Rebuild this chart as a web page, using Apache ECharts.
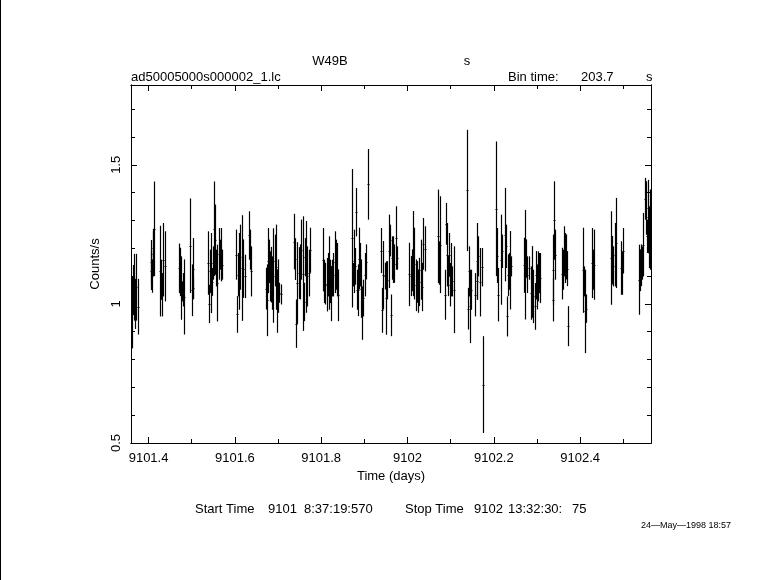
<!DOCTYPE html>
<html><head><meta charset="utf-8">
<script src="https://cdn.jsdelivr.net/npm/echarts@6/dist/echarts.min.js"></script>
<style>html,body{margin:0;padding:0;background:#fff}#c{width:781px;height:580px}</style>
</head><body><div id="c"></div>
<script>
// ---- data (Time in days, Counts/s, 1-sigma error) ----
const time = [
9101.3605, 9101.3628, 9101.3651, 9101.3674, 9101.3697, 9101.3720, 9101.3744,
9101.4049, 9101.4063, 9101.4080, 9101.4096, 9101.4110, 9101.4126,
9101.4265, 9101.4288, 9101.4311, 9101.4341, 9101.4388,
9101.4712, 9101.4735, 9101.4752, 9101.4775, 9101.4791, 9101.4821, 9101.4960, 9101.5006, 9101.5023, 9101.5037,
9101.5384, 9101.5400, 9101.5423, 9101.5447, 9101.5470, 9101.5493, 9101.5516, 9101.5539, 9101.5563, 9101.5593, 9101.5625, 9101.5655, 9101.5678, 9101.5702,
9101.6026, 9101.6042, 9101.6072, 9101.6095, 9101.6126, 9101.6158, 9101.6195, 9101.6227, 9101.6320, 9101.6350, 9101.6380,
9101.6714, 9101.6737, 9101.6774, 9101.6797, 9101.6821, 9101.6844, 9101.6867, 9101.6890, 9101.6923, 9101.6946, 9101.6969, 9101.6992, 9101.7022, 9101.7062,
9101.7370, 9101.7400, 9101.7423, 9101.7446, 9101.7479, 9101.7502, 9101.7532, 9101.7571, 9101.7601, 9101.7632, 9101.7655, 9101.7678, 9101.7710, 9101.7747,
9101.8049, 9101.8072, 9101.8095, 9101.8127, 9101.8158, 9101.8181, 9101.8204, 9101.8234, 9101.8257, 9101.8280, 9101.8313, 9101.8336, 9101.8359, 9101.8389,
9101.8707, 9101.8730, 9101.8753, 9101.8783, 9101.8813, 9101.8836, 9101.8860, 9101.8883, 9101.8906, 9101.8929, 9101.8952, 9101.8975, 9101.9008, 9101.9031, 9101.9091,
9101.9386, 9101.9409, 9101.9439, 9101.9471, 9101.9501, 9101.9532, 9101.9564, 9101.9587, 9101.9617, 9101.9640, 9101.9671, 9101.9694, 9101.9726, 9101.9749,
9102.0041, 9102.0074, 9102.0104, 9102.0127, 9102.0157, 9102.0190, 9102.0213, 9102.0243, 9102.0273, 9102.0305, 9102.0336, 9102.0366, 9102.0398,
9102.0706, 9102.0736, 9102.0760, 9102.0875, 9102.0899, 9102.0915, 9102.0938, 9102.0968, 9102.0991, 9102.1014, 9102.1038, 9102.1070,
9102.1371, 9102.1394, 9102.1425, 9102.1448, 9102.1471, 9102.1571, 9102.1603, 9102.1617, 9102.1640, 9102.1679, 9102.1719, 9102.1742,
9102.2050, 9102.2066, 9102.2096, 9102.2172, 9102.2196, 9102.2252, 9102.2282, 9102.2305, 9102.2335, 9102.2358, 9102.2381, 9102.2405,
9102.2706, 9102.2729, 9102.2752, 9102.2775, 9102.2808, 9102.2868, 9102.2891, 9102.2914, 9102.2947, 9102.2970, 9102.2993, 9102.3023, 9102.3053, 9102.3077,
9102.3364, 9102.3378, 9102.3401, 9102.3424, 9102.3586, 9102.3609, 9102.3633, 9102.3656, 9102.3679, 9102.3702, 9102.3725,
9102.4059, 9102.4082, 9102.4105, 9102.4128, 9102.4274, 9102.4298, 9102.4321,
9102.4722, 9102.4745, 9102.4768, 9102.4800, 9102.4824, 9102.4953, 9102.4976, 9102.5000,
9102.5370, 9102.5394, 9102.5417, 9102.5440, 9102.5463, 9102.5509, 9102.5526, 9102.5549, 9102.5572, 9102.5595, 9102.5618
];
const rate = [
0.97, 1.05, 1.02, 1.08, 1.00, 1.06, 0.99,
1.12, 1.15, 1.10, 1.18, 1.20, 1.27,
1.118, 1.087, 1.033, 1.159, 1.135,
1.128, 1.115, 1.057, 1.045, 1.051, 1.025, 1.209, 1.049, 1.127, 1.057,
1.147, 1.000, 1.117, 1.111, 1.079, 1.147, 1.270, 1.231, 1.129, 1.075, 1.180, 1.177, 1.177, 1.141,
1.177, 0.962, 1.105, 1.117, 1.168, 1.129, 1.127, 1.099, 1.246, 1.195, 1.117,
1.055, 1.013, 1.156, 1.153, 1.099, 1.105, 1.075, 1.102, 1.156, 1.132, 1.010, 1.064, 1.040, 1.034,
1.224, 1.161, 0.929, 1.075, 1.111, 1.115, 1.195, 1.109, 1.007, 1.168, 1.133, 1.099, 1.111, 1.193,
1.159, 1.081, 1.073, 1.069, 1.105, 1.111, 1.081, 1.037, 1.093, 1.105, 1.150, 1.141, 1.123, 1.031,
1.236, 1.105, 1.153, 1.135, 1.330, 1.051, 1.049, 1.163, 1.141, 1.055, 0.967, 1.021, 1.105, 1.151, 1.430,
1.192, 0.977, 1.103, 1.100, 1.021, 1.085, 1.189, 1.228, 0.959, 1.165, 1.159, 1.145, 1.237, 1.165,
1.106, 1.100, 1.121, 1.181, 1.145, 1.067, 1.079, 1.046, 1.079, 1.123, 1.061, 1.216, 1.198,
1.243, 1.147, 1.213, 1.033, 1.288, 1.177, 1.100, 1.177, 1.069, 1.123, 1.081, 1.051,
1.408, 0.983, 1.117, 0.991, 1.051, 1.033, 1.081, 1.153, 1.171, 1.078, 1.132, 0.710,
1.342, 1.174, 1.033, 1.159, 1.189, 1.249, 1.207, 0.955, 1.103, 1.117, 1.121, 1.135,
1.139, 1.141, 1.163, 1.105, 1.129, 1.039, 1.079, 1.027, 0.991, 1.103, 1.061, 1.099, 1.111, 1.093,
1.015, 1.123, 1.300, 1.177, 1.109, 1.123, 1.189, 1.165, 1.169, 1.127, 0.920,
1.121, 1.081, 0.973, 0.983, 1.147, 1.123, 1.141,
1.165, 1.157, 1.135, 1.177, 1.219, 1.129, 1.111, 1.192,
1.087, 1.121, 1.139, 1.147, 1.213, 1.378, 1.345, 1.243, 1.314, 1.240, 1.267
];
const rateErr = [
0.13, 0.09, 0.08, 0.10, 0.09, 0.12, 0.10,
0.07, 0.08, 0.06, 0.08, 0.07, 0.17,
0.163, 0.072, 0.078, 0.132, 0.126,
0.089, 0.087, 0.114, 0.036, 0.060, 0.135, 0.170, 0.093, 0.110, 0.040,
0.114, 0.069, 0.078, 0.144, 0.050, 0.060, 0.170, 0.126, 0.066, 0.138, 0.093, 0.054, 0.096, 0.054,
0.090, 0.066, 0.078, 0.138, 0.117, 0.190, 0.105, 0.078, 0.087, 0.072, 0.090,
0.075, 0.129, 0.117, 0.078, 0.090, 0.100, 0.096, 0.170, 0.093, 0.153, 0.114, 0.096, 0.036, 0.036,
0.100, 0.075, 0.087, 0.147, 0.093, 0.099, 0.108, 0.206, 0.069, 0.069, 0.165, 0.108, 0.084, 0.081,
0.114, 0.078, 0.075, 0.096, 0.078, 0.132, 0.078, 0.099, 0.066, 0.078, 0.111, 0.090, 0.096, 0.093,
0.249, 0.042, 0.114, 0.066, 0.087, 0.072, 0.093, 0.111, 0.078, 0.105, 0.096, 0.066, 0.078, 0.063, 0.127,
0.081, 0.081, 0.123, 0.048, 0.132, 0.069, 0.132, 0.057, 0.075, 0.078, 0.084, 0.069, 0.114, 0.042,
0.114, 0.072, 0.075, 0.153, 0.129, 0.093, 0.075, 0.078, 0.087, 0.108, 0.087, 0.093, 0.081,
0.168, 0.078, 0.174, 0.090, 0.075, 0.114, 0.072, 0.078, 0.078, 0.096, 0.054, 0.156,
0.218, 0.075, 0.090, 0.132, 0.072, 0.078, 0.066, 0.138, 0.072, 0.123, 0.069, 0.174,
0.242, 0.099, 0.096, 0.162, 0.060, 0.168, 0.078, 0.072, 0.075, 0.066, 0.141, 0.036,
0.099, 0.197, 0.069, 0.066, 0.042, 0.096, 0.129, 0.096, 0.084, 0.087, 0.081, 0.090, 0.072, 0.090,
0.078, 0.126, 0.141, 0.090, 0.093, 0.072, 0.090, 0.090, 0.081, 0.063, 0.072,
0.153, 0.054, 0.150, 0.051, 0.126, 0.072, 0.126,
0.168, 0.087, 0.072, 0.114, 0.162, 0.096, 0.078, 0.081,
0.126, 0.075, 0.075, 0.060, 0.114, 0.075, 0.096, 0.060, 0.132, 0.111, 0.144
];
const binTimeSec = 203.7;
const xRange = [9101.3593, 9102.5642];   // start / stop time in days
const yRange = [0.5, 1.787];
const yMajorStep = 0.5, yMinorStep = 0.1;

const FONT = "'Liberation Sans', Arial, sans-serif";
const fmt = v => String(parseFloat(Number(v).toFixed(4)));
const binDays = binTimeSec / 86400;

function xAxisDef(pos, split, tickLen, withLabel) {
  return {
    type: 'value', position: pos, min: xRange[0], max: xRange[1], splitNumber: split,
    axisLine: { show: true, onZero: false, lineStyle: { color: '#000', width: 1 } },
    axisTick: { show: true, inside: true, length: tickLen, lineStyle: { color: '#000', width: 1 } },
    axisLabel: { show: withLabel, showMinLabel: false, showMaxLabel: false, formatter: fmt,
      color: '#000', fontFamily: FONT, fontSize: 13, margin: 9 },
    splitLine: { show: false },
    name: withLabel ? 'Time (days)' : '', nameLocation: 'middle', nameGap: 24,
    nameTextStyle: { color: '#000', fontFamily: FONT, fontSize: 13 }
  };
}
function yAxisDef(pos, step, tickLen, withLabel) {
  return {
    type: 'value', position: pos, min: yRange[0], max: yRange[1], interval: step,
    axisLine: { show: true, onZero: false, lineStyle: { color: '#000', width: 1 } },
    axisTick: { show: true, inside: true, length: tickLen, lineStyle: { color: '#000', width: 1 } },
    axisLabel: { show: withLabel, showMaxLabel: false, formatter: fmt, rotate: 90,
      color: '#000', fontFamily: FONT, fontSize: 13, margin: 8 },
    splitLine: { show: false },
    name: withLabel ? 'Counts/s' : '', nameLocation: 'middle', nameGap: 29, nameRotate: 90,
    nameTextStyle: { color: '#000', fontFamily: FONT, fontSize: 13 }
  };
}

function txt(x, y, s, align, size) {
  return { type: 'text', x: x, y: y, silent: true,
    style: { text: s, fill: '#000', font: (size || 13) + 'px ' + FONT,
      textAlign: align || 'left', textVerticalAlign: 'middle' } };
}

const chart = echarts.init(document.getElementById('c'), null, { renderer: 'canvas' });
chart.setOption({
  animation: false,
  backgroundColor: '#fff',
  grid: { left: 131, right: 130, top: 85, bottom: 137, containLabel: false },
  xAxis: [
    xAxisDef('bottom', 6, 6, true),
    xAxisDef('bottom', 12, 4, false),
    xAxisDef('top', 6, 6, false),
    xAxisDef('top', 12, 4, false)
  ],
  yAxis: [
    yAxisDef('left', yMajorStep, 6, true),
    yAxisDef('left', yMinorStep, 4, false),
    yAxisDef('right', yMajorStep, 6, false),
    yAxisDef('right', yMinorStep, 4, false)
  ],
  series: [{
    type: 'custom', xAxisIndex: 0, yAxisIndex: 0, silent: true, clip: true,
    data: time.map((t, i) => [t, rate[i], rateErr[i]]),
    renderItem: function (params, api) {
      const t = api.value(0), r = api.value(1), e = api.value(2);
      const top = api.coord([t, r + e]);
      const bot = api.coord([t, r - e]);
      const mid = api.coord([t, r]);
      const half = Math.max(api.size([binDays, 0])[0] / 2, 1);
      const x = Math.round(mid[0]) + 0.5;
      const ym = Math.round(mid[1]) + 0.5;
      return { type: 'group', children: [
        { type: 'line', shape: { x1: x, y1: top[1], x2: x, y2: bot[1] },
          style: { stroke: '#000', lineWidth: 1.2 } },
        { type: 'line', shape: { x1: x - half, y1: ym, x2: x + half, y2: ym },
          style: { stroke: '#000', lineWidth: 1 } }
      ] };
    }
  }],
  graphic: [
    { type: 'line', silent: true, shape: { x1: 0.5, y1: 0, x2: 0.5, y2: 580 }, style: { stroke: '#000', lineWidth: 1 } },
    txt(330, 61, 'W49B', 'center'),
    txt(467, 61, 's', 'center'),
    txt(131, 77, 'ad50005000s000002_1.lc', 'left'),
    txt(508, 77, 'Bin time:', 'left'),
    txt(581, 77, '203.7', 'left'),
    txt(646, 77, 's', 'left'),
    txt(195, 509, 'Start Time', 'left'),
    txt(268, 509, '9101', 'left'),
    txt(304, 509, '8:37:19:570', 'left'),
    txt(405, 509, 'Stop Time', 'left'),
    txt(474, 509, '9102', 'left'),
    txt(508, 509, '13:32:30:', 'left'),
    txt(572, 509, '75', 'left'),
    txt(641, 526, '24\u2014May\u20141998 18:57', 'left', 9)
  ]
});
</script></body></html>
